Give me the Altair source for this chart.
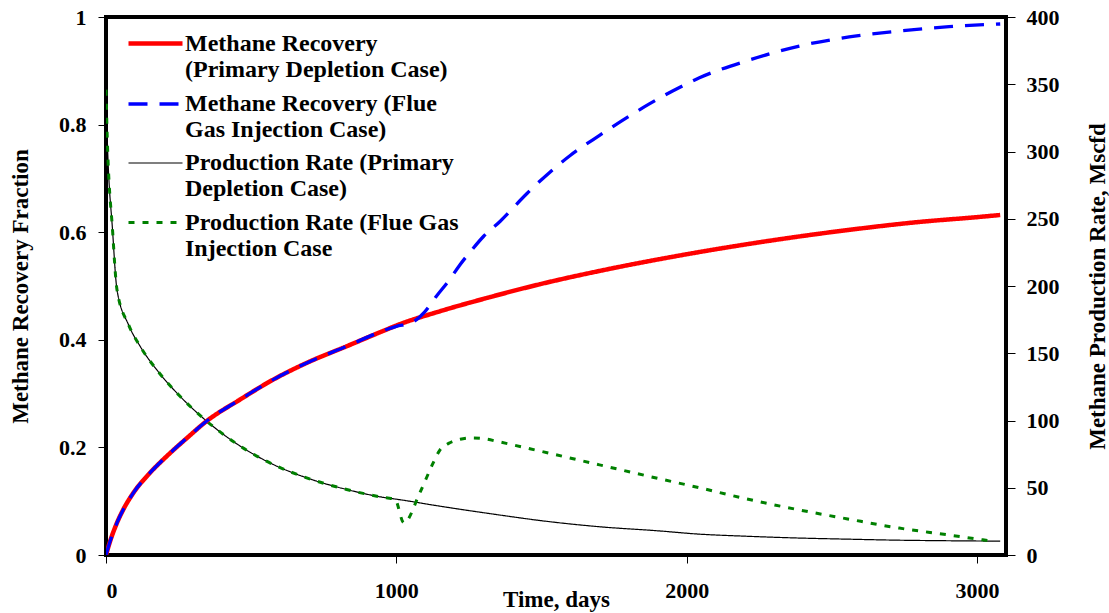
import altair as alt
import pandas as pd

SERIES = [
    "Methane Recovery|(Primary Depletion Case)",
    "Methane Recovery (Flue|Gas Injection Case)",
    "Production Rate (Primary|Depletion Case)",
    "Production Rate (Flue Gas|Injection Case",
]
COLORS = ["#ff0000", "#0000ff", "#000000", "#008000"]
DASHES = [[1, 0], [19, 12], [1, 0], [6, 8]]
WIDTHS = [4.5, 3.3, 1.2, 3.0]

# Methane recovery fraction, primary depletion
rec_days = [0, 15, 38, 60, 95, 152, 210, 280, 347, 462, 576, 691, 829, 966, 1000, 1150, 1300,
            1500, 1700, 2000, 2200, 2400, 2600, 2800, 3000, 3080]
rec_primary = [0, 0.027, 0.06, 0.085, 0.116, 0.153, 0.184, 0.218, 0.249, 0.289, 0.326, 0.357,
               0.388, 0.419, 0.4265, 0.453, 0.476, 0.504, 0.528, 0.559, 0.577, 0.593, 0.607,
               0.619, 0.628, 0.632]

# Methane recovery fraction, flue gas injection
flue_rec_days = [0, 15, 38, 60, 95, 152, 210, 280, 347, 462, 576, 691, 829, 966, 1000, 1050,
                 1098, 1138, 1185, 1220, 1260, 1300, 1357, 1450, 1530, 1600, 1700, 1800, 1870,
                 1950, 2044, 2216, 2388, 2560, 2732, 2904, 3080]
flue_rec = [0, 0.027, 0.06, 0.085, 0.116, 0.153, 0.184, 0.218, 0.249, 0.289, 0.326, 0.357,
            0.388, 0.419, 0.425, 0.431, 0.452, 0.481, 0.513, 0.54, 0.567, 0.592, 0.62, 0.672,
            0.712, 0.743, 0.78, 0.815, 0.838, 0.862, 0.887, 0.92, 0.946, 0.963, 0.974, 0.982, 0.987]

# Methane production rate (Mscfd), primary depletion
rate_days = [0, 3, 23, 38, 78, 118, 181, 255, 347, 462, 576, 691, 829, 966, 1000, 1150, 1357,
             1500, 1700, 1900, 2044, 2200, 2388, 2550, 2732, 2900, 3080]
rate_primary = [346, 320, 240, 197, 171, 155, 136, 118, 99.5, 81, 67.3, 57.4, 48.7, 42.5, 41.5,
                36.3, 29.7, 25.5, 21, 18, 15.5, 14, 12.6, 11.8, 11, 10.6, 10.3]

# Methane production rate (Mscfd), flue gas injection
flue_rate_days = [0, 3, 23, 38, 78, 118, 181, 255, 347, 462, 576, 691, 829, 966, 995, 1026, 1081,
                  1127, 1150, 1180, 1220, 1260, 1300, 1357, 1500, 1700, 1900, 2044, 2200, 2388,
                  2550, 2732, 2900, 3060]
flue_rate = [346, 320, 240, 197, 171, 155, 136, 118, 99.5, 81, 67.3, 57.4, 48.7, 42.5, 41.6, 23.9,
             46.2, 68.5, 78, 83, 86, 87, 86.5, 84, 77, 67, 57, 50, 42, 33.5, 27, 20, 15, 10]

FONT = "Liberation Serif"

legend = alt.Legend(
    title=None, orient="none", legendX=27, legendY=4, padding=0,
    symbolType="M-1.35,0H1.35", symbolSize=1600, labelFont=FONT, labelFontSize=24,
    labelFontWeight="bold", labelColor="black", labelLimit=500, labelOffset=7,
    rowPadding=0, labelExpr="split(datum.label, '|')",
)

x_enc = alt.X("day:Q", scale=alt.Scale(domain=[0, 3100], nice=False),
              axis=alt.Axis(title="Time, days", values=[0, 1000, 2000, 3000], format="d",
                            titleY=51, titleBaseline="alphabetic", labelPadding=17))


def line(df_days, df_vals, name, yenc):
    df = pd.DataFrame({"day": df_days, "val": df_vals, "series": name})
    return alt.Chart(df).mark_line(clip=True, strokeCap="butt", interpolate="monotone").encode(
        x=x_enc,
        y=yenc,
        color=alt.Color("series:N", scale=alt.Scale(domain=SERIES, range=COLORS), legend=legend),
        strokeDash=alt.StrokeDash("series:N", scale=alt.Scale(domain=SERIES, range=DASHES), legend=legend),
        strokeWidth=alt.StrokeWidth("series:N",
                                    scale=alt.Scale(type="ordinal", domain=SERIES, range=WIDTHS),
                                    legend=legend),
    )


y_left = alt.Y("val:Q", scale=alt.Scale(domain=[0, 1], nice=False),
               axis=alt.Axis(title="Methane Recovery Fraction", orient="left",
                             values=[0, 0.2, 0.4, 0.6, 0.8, 1], format="~g",
                             titleX=-86, titleAngle=270, titleBaseline="middle", labelPadding=12))
y_right = alt.Y("val:Q", scale=alt.Scale(domain=[0, 400], nice=False),
                axis=alt.Axis(title="Methane Production Rate, Mscfd", orient="right",
                              values=list(range(0, 401, 50)), tickSize=9,
                              titleX=91, titleAngle=270, titleBaseline="middle", labelPadding=11))

left = alt.layer(
    line(rec_days, rec_primary, SERIES[0], y_left),
    line(flue_rec_days, flue_rec, SERIES[1], y_left),
)
right = alt.layer(
    line(rate_days, rate_primary, SERIES[2], y_right),
    line(flue_rate_days, flue_rate, SERIES[3], y_right),
)

chart = alt.layer(right, left).resolve_scale(y="independent").properties(
    width=900, height=538,
    autosize=alt.AutoSizeParams(type="none"),
    padding={"left": 106, "top": 17, "right": 103, "bottom": 58},
    background="white",
).configure_view(
    stroke="black", strokeWidth=4,
).configure_axis(
    domain=False, grid=False, ticks=True, tickColor="black", tickWidth=1, tickSize=8,
    labelFont=FONT, labelFontSize=22, labelFontWeight="bold", labelColor="black",
    titleFont=FONT, titleFontSize=23, titleFontWeight="bold", titleColor="black",
)

chart.save("out.html", embed_options={"renderer": "svg", "actions": False})
